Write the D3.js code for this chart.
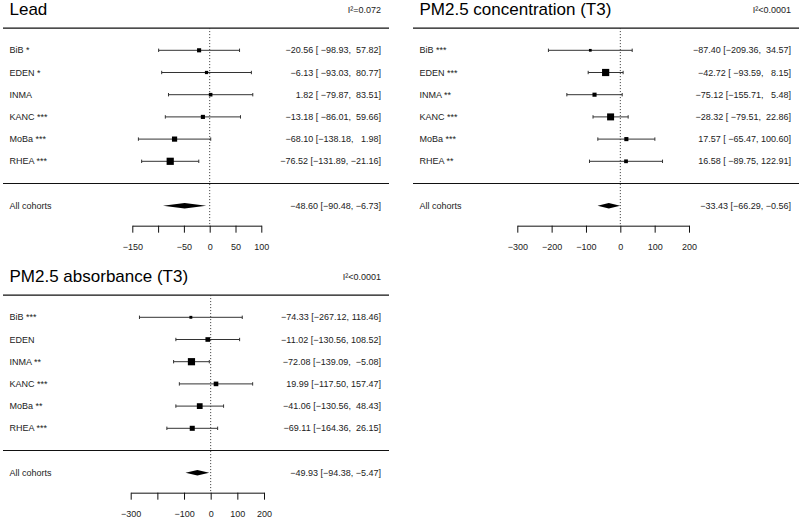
<!DOCTYPE html>
<html>
<head>
<meta charset="utf-8">
<script src="https://cdn.jsdelivr.net/npm/d3@7"></script>
<style>
  body { margin: 0; background: #fff; }
  svg text { font-family: "Liberation Sans", Arial, sans-serif; white-space: pre; }
</style>
</head>
<body>
<div id="chart"></div>
<script>
// cohort rows (same order in every panel)
var cohorts = ["BiB", "EDEN", "INMA", "KANC", "MoBa", "RHEA"];

// Lead
var leadStars = ["*", "*", "", "***", "***", "***"];
var leadEst = [-20.56, -6.13, 1.82, -13.18, -68.10, -76.52];
var leadLo = [-98.93, -93.03, -79.87, -86.01, -138.18, -131.89];
var leadHi = [57.82, 80.77, 83.51, 59.66, 1.98, -21.16];
var leadWeight = [0.57, 0.45, 0.5, 0.57, 0.72, 1];
var leadSummary = [-48.60, -90.48, -6.73];
var leadI2 = "I\u00b2=0.072";
var leadTicks = [-150, -100, -50, 0, 50, 100];
var leadTickLabels = ["\u2212150", "", "\u221250", "0", "50", "100"];

// PM2.5 concentration (T3)
var concStars = ["***", "***", "**", "***", "***", "**"];
var concEst = [-87.40, -42.72, -75.12, -28.32, 17.57, 16.58];
var concLo = [-209.36, -93.59, -155.71, -79.51, -65.47, -89.75];
var concHi = [34.57, 8.15, 5.48, 22.86, 100.60, 122.91];
var concWeight = [0.38, 1, 0.57, 0.97, 0.57, 0.52];
var concSummary = [-33.43, -66.29, -0.56];
var concI2 = "I\u00b2<0.0001";
var concTicks = [-300, -200, -100, 0, 100, 200];
var concTickLabels = ["\u2212300", "\u2212200", "\u2212100", "0", "100", "200"];

// PM2.5 absorbance (T3)
var absStars = ["***", "", "**", "***", "**", "***"];
var absEst = [-74.33, -11.02, -72.08, 19.99, -41.06, -69.11];
var absLo = [-267.12, -130.56, -139.09, -117.50, -130.56, -164.36];
var absHi = [118.46, 108.52, -5.08, 157.47, 48.43, 26.15];
var absWeight = [0.4, 0.64, 1, 0.64, 0.8, 0.7];
var absSummary = [-49.93, -94.38, -5.47];
var absI2 = "I\u00b2<0.0001";
var absTicks = [-300, -200, -100, 0, 100, 200];
var absTickLabels = ["\u2212300", "", "\u2212100", "0", "100", "200"];

var panels = [
    { title: "Lead", i2: leadI2, stars: leadStars, est: leadEst, lo: leadLo, hi: leadHi, w: leadWeight,
      summary: leadSummary, ticks: leadTicks, tickLabels: leadTickLabels,
      x0: 0, y0: 0, range: [132.3, 261.3] },
    { title: "PM2.5 concentration (T3)", i2: concI2, stars: concStars, est: concEst, lo: concLo, hi: concHi, w: concWeight,
      summary: concSummary, ticks: concTicks, tickLabels: concTickLabels,
      x0: 410, y0: 0, range: [107.3, 279] },
    { title: "PM2.5 absorbance (T3)", i2: absI2, stars: absStars, est: absEst, lo: absLo, hi: absHi, w: absWeight,
      summary: absSummary, ticks: absTicks, tickLabels: absTickLabels,
      x0: 0, y0: 267, range: [130.7, 264] }
];

var width = 800, height = 520;

var svg = d3.select("#chart").append("svg")
    .attr("width", width)
    .attr("height", height);

var fmt = function (v) { return v.toFixed(2).replace("-", "\u2212"); };
var padTo = function (s, n) { while (s.length < n) s = " " + s; return s; };

// row index -> y ; -1 top rule, 0..5 cohorts, 6 bottom rule, 7 summary
var yScale = d3.scaleLinear().domain([0, 5]).range([50.3, 161.3]);
var sizeScale = d3.scaleLinear().domain([0, 1]).range([0, 7.2]);

panels.forEach(function (p) {
    var g = svg.append("g")
        .attr("transform", "translate(" + p.x0 + "," + p.y0 + ")");

    var xScale = d3.scaleLinear()
        .domain([p.ticks[0], p.ticks[p.ticks.length - 1]])
        .range(p.range);

    var rows = cohorts.map(function (c, i) {
        return { name: c, stars: p.stars[i], est: p.est[i], lo: p.lo[i], hi: p.hi[i], w: p.w[i], i: i };
    });

    // column widths for the annotation text (R style padding)
    var loW = d3.max(rows, d => fmt(d.lo).length);
    var hiW = d3.max(rows, d => fmt(d.hi).length);

    // title + I2
    g.append("text")
        .attr("x", 9.5)
        .attr("y", 15)
        .attr("font-size", 17)
        .attr("fill", "#000")
        .text(p.title);

    g.append("text")
        .attr("x", 381)
        .attr("y", 13)
        .attr("font-size", 9)
        .attr("text-anchor", "end")
        .attr("fill", "#222")
        .text(p.i2);

    // rules
    [-1, 6].forEach(function (r) {
        g.append("line")
            .attr("x1", 3).attr("x2", 389)
            .attr("y1", yScale(r)).attr("y2", yScale(r))
            .attr("stroke", "#111")
            .attr("stroke-width", 1.2);
    });

    // zero reference line
    g.append("line")
        .attr("x1", xScale(0)).attr("x2", xScale(0))
        .attr("y1", yScale(-1)).attr("y2", yScale(7.9))
        .attr("stroke", "#333")
        .attr("stroke-dasharray", "1,2");

    // CI lines
    var row = g.selectAll(".row").data(rows)
        .enter().append("g")
        .attr("class", "row");

    row.append("line")
        .attr("x1", d => xScale(d.lo))
        .attr("x2", d => xScale(d.hi))
        .attr("y1", d => yScale(d.i))
        .attr("y2", d => yScale(d.i))
        .attr("stroke", "#333");

    row.append("line")
        .attr("x1", d => xScale(d.lo)).attr("x2", d => xScale(d.lo))
        .attr("y1", d => yScale(d.i) - 1.7).attr("y2", d => yScale(d.i) + 1.7)
        .attr("stroke", "#333");

    row.append("line")
        .attr("x1", d => xScale(d.hi)).attr("x2", d => xScale(d.hi))
        .attr("y1", d => yScale(d.i) - 1.7).attr("y2", d => yScale(d.i) + 1.7)
        .attr("stroke", "#333");

    row.append("rect")
        .attr("x", d => xScale(d.est) - sizeScale(d.w) / 2)
        .attr("y", d => yScale(d.i) - sizeScale(d.w) / 2)
        .attr("width", d => sizeScale(d.w))
        .attr("height", d => sizeScale(d.w))
        .attr("fill", "#000");

    row.append("text")
        .attr("x", 9.5)
        .attr("y", d => yScale(d.i))
        .attr("dy", "0.35em")
        .attr("font-size", 9)
        .attr("fill", "#222")
        .text(d => d.stars ? d.name + " " + d.stars : d.name);

    row.append("text")
        .attr("x", 381)
        .attr("y", d => yScale(d.i))
        .attr("dy", "0.35em")
        .attr("font-size", 9)
        .attr("text-anchor", "end")
        .attr("fill", "#222")
        .text(d => fmt(d.est) + " [" + padTo(fmt(d.lo), loW) + ", " + padTo(fmt(d.hi), hiW) + "]");

    // summary diamond
    var s = p.summary, ys = yScale(7);
    g.append("path")
        .attr("d", "M" + xScale(s[1]) + "," + ys +
            "L" + xScale(s[0]) + "," + (ys - 2.7) +
            "L" + xScale(s[2]) + "," + ys +
            "L" + xScale(s[0]) + "," + (ys + 2.7) + "Z")
        .attr("fill", "#000");

    g.append("text")
        .attr("x", 9.5)
        .attr("y", ys)
        .attr("dy", "0.35em")
        .attr("font-size", 9)
        .attr("fill", "#222")
        .text("All cohorts");

    g.append("text")
        .attr("x", 381)
        .attr("y", ys)
        .attr("dy", "0.35em")
        .attr("font-size", 9)
        .attr("text-anchor", "end")
        .attr("fill", "#222")
        .text(fmt(s[0]) + " [" + fmt(s[1]) + ", " + fmt(s[2]) + "]");

    // x axis
    var xAxis = d3.axisBottom(xScale)
        .tickValues(p.ticks)
        .tickFormat((d, i) => p.tickLabels[i])
        .tickSize(7)
        .tickSizeOuter(0)
        .tickPadding(11);

    var axisG = g.append("g")
        .attr("transform", "translate(0," + yScale(7.9) + ")")
        .call(xAxis);

    axisG.select(".domain").attr("stroke", "#111");
    axisG.selectAll(".tick line").attr("stroke", "#111");
    axisG.selectAll(".tick text")
        .attr("font-family", "Liberation Sans, Arial, sans-serif")
        .attr("font-size", 9)
        .attr("fill", "#222");
});
</script>
</body>
</html>
